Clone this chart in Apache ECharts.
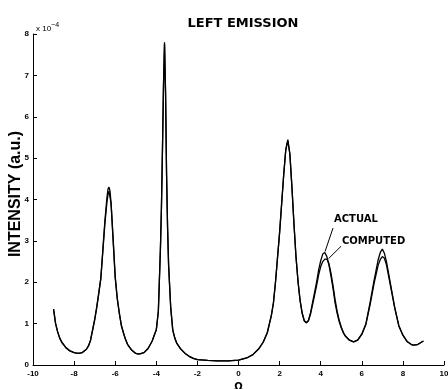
<!DOCTYPE html>
<html>
<head>
<meta charset="utf-8">
<script src="https://cdn.jsdelivr.net/npm/echarts@6/dist/echarts.min.js"></script>
<style>
  html, body { margin: 0; padding: 0; background: #fff; }
  #chart { width: 448px; height: 389px; }
</style>
</head>
<body>
<div id="chart"></div>
<script>
// x positions (Omega) and intensities in units of 1e-4
const xs = [-9.0, -8.9, -8.8, -8.7, -8.6, -8.4, -8.2, -8.0, -7.8, -7.6, -7.4, -7.3, -7.2, -7.1, -7.0, -6.9, -6.8, -6.7, -6.6, -6.5,
    -6.4, -6.35, -6.3, -6.25, -6.2, -6.1, -6.0, -5.9, -5.8, -5.7, -5.6, -5.5, -5.4, -5.2, -5.0, -4.9, -4.8, -4.6, -4.4, -4.2,
    -4.1, -4.0, -3.9, -3.8, -3.75, -3.7, -3.65, -3.6, -3.55, -3.5, -3.45, -3.4, -3.3, -3.2, -3.1, -3.0, -2.8, -2.6, -2.4, -2.2,
    -2.0, -1.5, -1.0, -0.5, 0.0, 0.4, 0.7, 1.0, 1.2, 1.4, 1.6, 1.7, 1.8, 1.9, 2.0, 2.1, 2.2, 2.3, 2.4, 2.5,
    2.6, 2.7, 2.8, 2.9, 3.0, 3.1, 3.2, 3.3, 3.4, 3.5, 3.6, 3.7, 3.8, 3.9, 4.0, 4.1, 4.2, 4.3, 4.4, 4.5,
    4.6, 4.7, 4.8, 4.9, 5.0, 5.1, 5.2, 5.4, 5.6, 5.8, 6.0, 6.2, 6.4, 6.6, 6.8, 6.9, 7.0, 7.1, 7.2, 7.4,
    7.6, 7.8, 8.0, 8.2, 8.4, 8.5, 8.7, 8.9, 9.0];
const actual = [1.35, 1.0, 0.8, 0.65, 0.55, 0.42, 0.34, 0.3, 0.28, 0.3, 0.38, 0.46, 0.6, 0.85, 1.1, 1.4, 1.75, 2.1, 2.8, 3.5,
    4.05, 4.25, 4.3, 4.2, 3.9, 3.0, 2.1, 1.6, 1.25, 0.95, 0.78, 0.62, 0.5, 0.36, 0.28, 0.27, 0.27, 0.3, 0.4, 0.58,
    0.72, 0.85, 1.3, 2.8, 3.8, 5.2, 6.8, 7.8, 6.6, 4.6, 3.3, 2.4, 1.4, 0.85, 0.65, 0.52, 0.38, 0.28, 0.21, 0.16,
    0.13, 0.11, 0.1, 0.1, 0.12, 0.17, 0.25, 0.4, 0.55, 0.78, 1.2, 1.5, 2.0, 2.6, 3.2, 3.9, 4.6, 5.2, 5.45, 5.1,
    4.3, 3.4, 2.6, 2.0, 1.55, 1.25, 1.07, 1.02, 1.07, 1.25, 1.5, 1.75, 2.0, 2.3, 2.52, 2.68, 2.72, 2.62, 2.42, 2.15,
    1.85, 1.5, 1.25, 1.05, 0.9, 0.78, 0.7, 0.6, 0.56, 0.6, 0.75, 1.0, 1.5, 2.05, 2.55, 2.72, 2.8, 2.7, 2.5, 1.95,
    1.4, 0.95, 0.72, 0.57, 0.5, 0.48, 0.49, 0.55, 0.58];
const computed = [1.35, 1.0, 0.8, 0.65, 0.55, 0.42, 0.34, 0.3, 0.28, 0.3, 0.38, 0.46, 0.6, 0.84, 1.08, 1.38, 1.72, 2.08, 2.75, 3.42,
    3.95, 4.12, 4.2, 4.18, 3.9, 3.05, 2.15, 1.62, 1.26, 0.96, 0.78, 0.62, 0.5, 0.36, 0.28, 0.27, 0.27, 0.3, 0.4, 0.58,
    0.72, 0.85, 1.3, 2.8, 3.8, 5.2, 6.7, 7.75, 6.6, 4.6, 3.3, 2.4, 1.4, 0.85, 0.65, 0.52, 0.38, 0.28, 0.21, 0.16,
    0.13, 0.11, 0.1, 0.1, 0.12, 0.17, 0.25, 0.4, 0.55, 0.78, 1.2, 1.5, 2.0, 2.6, 3.2, 3.9, 4.6, 5.2, 5.42, 5.1,
    4.3, 3.4, 2.6, 2.0, 1.55, 1.25, 1.07, 1.02, 1.07, 1.22, 1.45, 1.68, 1.92, 2.18, 2.38, 2.5, 2.56, 2.56, 2.45, 2.22,
    1.92, 1.58, 1.3, 1.08, 0.92, 0.79, 0.7, 0.6, 0.56, 0.6, 0.74, 0.98, 1.45, 1.98, 2.42, 2.55, 2.62, 2.58, 2.42, 1.9,
    1.38, 0.95, 0.72, 0.57, 0.5, 0.48, 0.49, 0.55, 0.58];
// leader lines for the two labels: [x, y] start -> end
const actualLeader = [[4.6, 3.31], [4.21, 2.74]];
const computedLeader = [[4.99, 2.87], [4.38, 2.57]];

const chart = echarts.init(document.getElementById('chart'));
const font = '"Liberation Sans", Arial, sans-serif';
const wide = '"DejaVu Sans", sans-serif';

const option = {
    animation: false,
    backgroundColor: '#fff',
    title: {
        text: 'LEFT EMISSION',
        left: 238,
        top: 12,
        textAlign: 'center',
        textStyle: { fontFamily: wide, fontSize: 13, fontWeight: 'bold', color: '#000' }
    },
    grid: { left: 33, right: 4, top: 34, bottom: 24, outerBoundsMode: 'none' },
    xAxis: {
        type: 'value',
        min: -10,
        max: 10,
        interval: 2,
        name: 'Ω',
        nameLocation: 'middle',
        nameGap: 12,
        nameTextStyle: { fontFamily: wide, fontSize: 10, fontWeight: 'bold', color: '#000' },
        axisLine: { show: true, onZero: false, lineStyle: { color: '#000', width: 1 } },
        axisTick: { show: true, inside: true, length: 4, lineStyle: { color: '#000' } },
        axisLabel: { fontFamily: font, fontSize: 8, fontWeight: 'bold', color: '#000', margin: 5 },
        splitLine: { show: false }
    },
    yAxis: {
        type: 'value',
        min: 0,
        max: 8,
        interval: 1,
        axisLine: { show: true, onZero: false, lineStyle: { color: '#000', width: 1 } },
        axisTick: { show: true, inside: true, length: 4, lineStyle: { color: '#000' } },
        axisLabel: { fontFamily: font, fontSize: 8, fontWeight: 'bold', color: '#000', margin: 4 },
        splitLine: { show: false }
    },
    graphic: [
        {
            type: 'text',
            x: 16,
            y: 194,
            rotation: Math.PI / 2,
            style: {
                text: 'INTENSITY (a.u.)',
                font: 'bold 16px ' + font,
                fill: '#000',
                align: 'center',
                verticalAlign: 'middle'
            }
        },
        {
            type: 'text',
            left: 36,
            top: 22,
            style: {
                text: 'x 10{s|−4}',
                font: '8px ' + font,
                fill: '#000',
                rich: { s: { fontSize: 7, verticalAlign: 'top', padding: [0, 0, 6, 0] } }
            }
        },
        {
            type: 'text',
            left: 334,
            top: 214,
            style: { text: 'ACTUAL', font: 'bold 10px ' + wide, fill: '#000' }
        },
        {
            type: 'text',
            left: 342,
            top: 236,
            style: { text: 'COMPUTED', font: 'bold 10px ' + wide, fill: '#000' }
        }
    ],
    series: [
        {
            type: 'line',
            name: 'ACTUAL',
            data: xs.map((x, i) => [x, actual[i]]),
            showSymbol: false,
            lineStyle: { color: '#000', width: 1.3 },
            markLine: {
                silent: true,
                symbol: 'none',
                lineStyle: { color: '#000', width: 1, type: 'solid' },
                label: { show: false },
                data: [[{ coord: actualLeader[0] }, { coord: actualLeader[1] }]]
            }
        },
        {
            type: 'line',
            name: 'COMPUTED',
            data: xs.map((x, i) => [x, computed[i]]),
            showSymbol: false,
            lineStyle: { color: '#000', width: 1.3 },
            markLine: {
                silent: true,
                symbol: 'none',
                lineStyle: { color: '#000', width: 1, type: 'solid' },
                label: { show: false },
                data: [[{ coord: computedLeader[0] }, { coord: computedLeader[1] }]]
            }
        }
    ]
};

chart.setOption(option);
</script>
</body>
</html>
